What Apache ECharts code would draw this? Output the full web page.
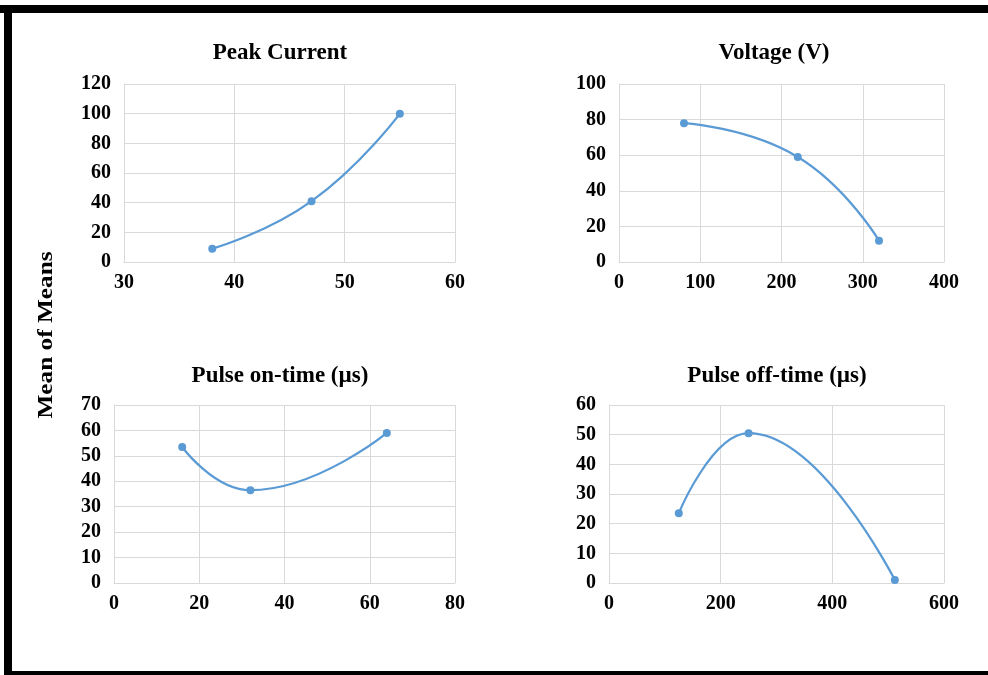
<!DOCTYPE html>
<html>
<head>
<meta charset="utf-8">
<script src="https://cdn.jsdelivr.net/npm/echarts@6/dist/echarts.min.js"></script>
<style>
  html, body { margin: 0; padding: 0; background: #fff; }
  #main { width: 988px; height: 675px; }
</style>
</head>
<body>
<div id="main"></div>
<script>
// data
const titles = ['Peak Current', 'Voltage (V)', 'Pulse on-time (µs)', 'Pulse off-time (µs)'];

const peakX = [38, 47, 55];
const peakY = [9, 41, 100];

const voltX = [80, 220, 320];
const voltY = [78, 59, 12];

const onX = [16, 32, 64];
const onY = [53.5, 36.5, 59];

const offX = [125, 250, 512];
const offY = [23.5, 50.5, 1];

// axis ranges
const xRanges = [[30, 60, 10], [0, 400, 100], [0, 80, 20], [0, 600, 200]];
const yRanges = [[0, 120, 20], [0, 100, 20], [0, 70, 10], [0, 60, 10]];

const xs = [peakX, voltX, onX, offX];
const ys = [peakY, voltY, onY, offY];

const grids = [
  { left: 124, top: 84, width: 331, height: 178 },
  { left: 619, top: 84, width: 325, height: 178 },
  { left: 114, top: 405, width: 341, height: 178 },
  { left: 609, top: 405, width: 335, height: 178 }
];

const titlePos = [
  { x: 275, y: 37 },
  { x: 769, y: 37 },
  { x: 275, y: 360 },
  { x: 772, y: 360 }
];

const font = 'Liberation Serif';
const gridColor = '#d9d9d9';
const lineColor = '#5b9bd5';

const chart = echarts.init(document.getElementById('main'));

chart.setOption({
  animation: false,
  backgroundColor: '#fff',
  title: titles.map((t, i) => ({
    text: t,
    left: titlePos[i].x,
    top: titlePos[i].y,
    textAlign: 'center',
    textStyle: { fontFamily: font, fontWeight: 'bold', fontSize: 23, color: '#000' }
  })),
  grid: grids,
  xAxis: xRanges.map((r, i) => ({
    type: 'value',
    gridIndex: i,
    min: r[0], max: r[1], interval: r[2],
    axisLine: { show: true, lineStyle: { color: gridColor } },
    axisTick: { show: false },
    splitLine: { show: true, lineStyle: { color: gridColor } },
    axisLabel: { margin: 11, color: '#000', fontFamily: font, fontWeight: 'bold', fontSize: 20 }
  })),
  yAxis: yRanges.map((r, i) => ({
    type: 'value',
    gridIndex: i,
    min: r[0], max: r[1], interval: r[2],
    axisLine: { show: true, lineStyle: { color: gridColor } },
    axisTick: { show: false },
    splitLine: { show: true, lineStyle: { color: gridColor } },
    axisLabel: { margin: 13, color: '#000', fontFamily: font, fontWeight: 'bold', fontSize: 20 }
  })),
  series: xs.map((xv, i) => ({
    type: 'line',
    xAxisIndex: i,
    yAxisIndex: i,
    smooth: 0.5,
    symbol: 'circle',
    symbolSize: 8,
    lineStyle: { color: lineColor, width: 2.25 },
    itemStyle: { color: lineColor },
    data: xv.map((x, j) => [x, ys[i][j]])
  })),
  graphic: [
    // black frame
    { type: 'rect', shape: { x: 0, y: 5, width: 988, height: 8 }, style: { fill: '#000' } },
    { type: 'rect', shape: { x: 4, y: 5, width: 8, height: 670 }, style: { fill: '#000' } },
    { type: 'rect', shape: { x: 4, y: 671, width: 984, height: 4 }, style: { fill: '#000' } },
    {
      type: 'text',
      x: 46, y: 335,
      rotation: Math.PI / 2,
      scaleX: 1.15,
      style: {
        text: 'Mean of Means',
        fontFamily: font, fontWeight: 'bold', fontSize: 22, fill: '#000',
        align: 'center', verticalAlign: 'middle'
      }
    }
  ]
});
</script>
</body>
</html>
